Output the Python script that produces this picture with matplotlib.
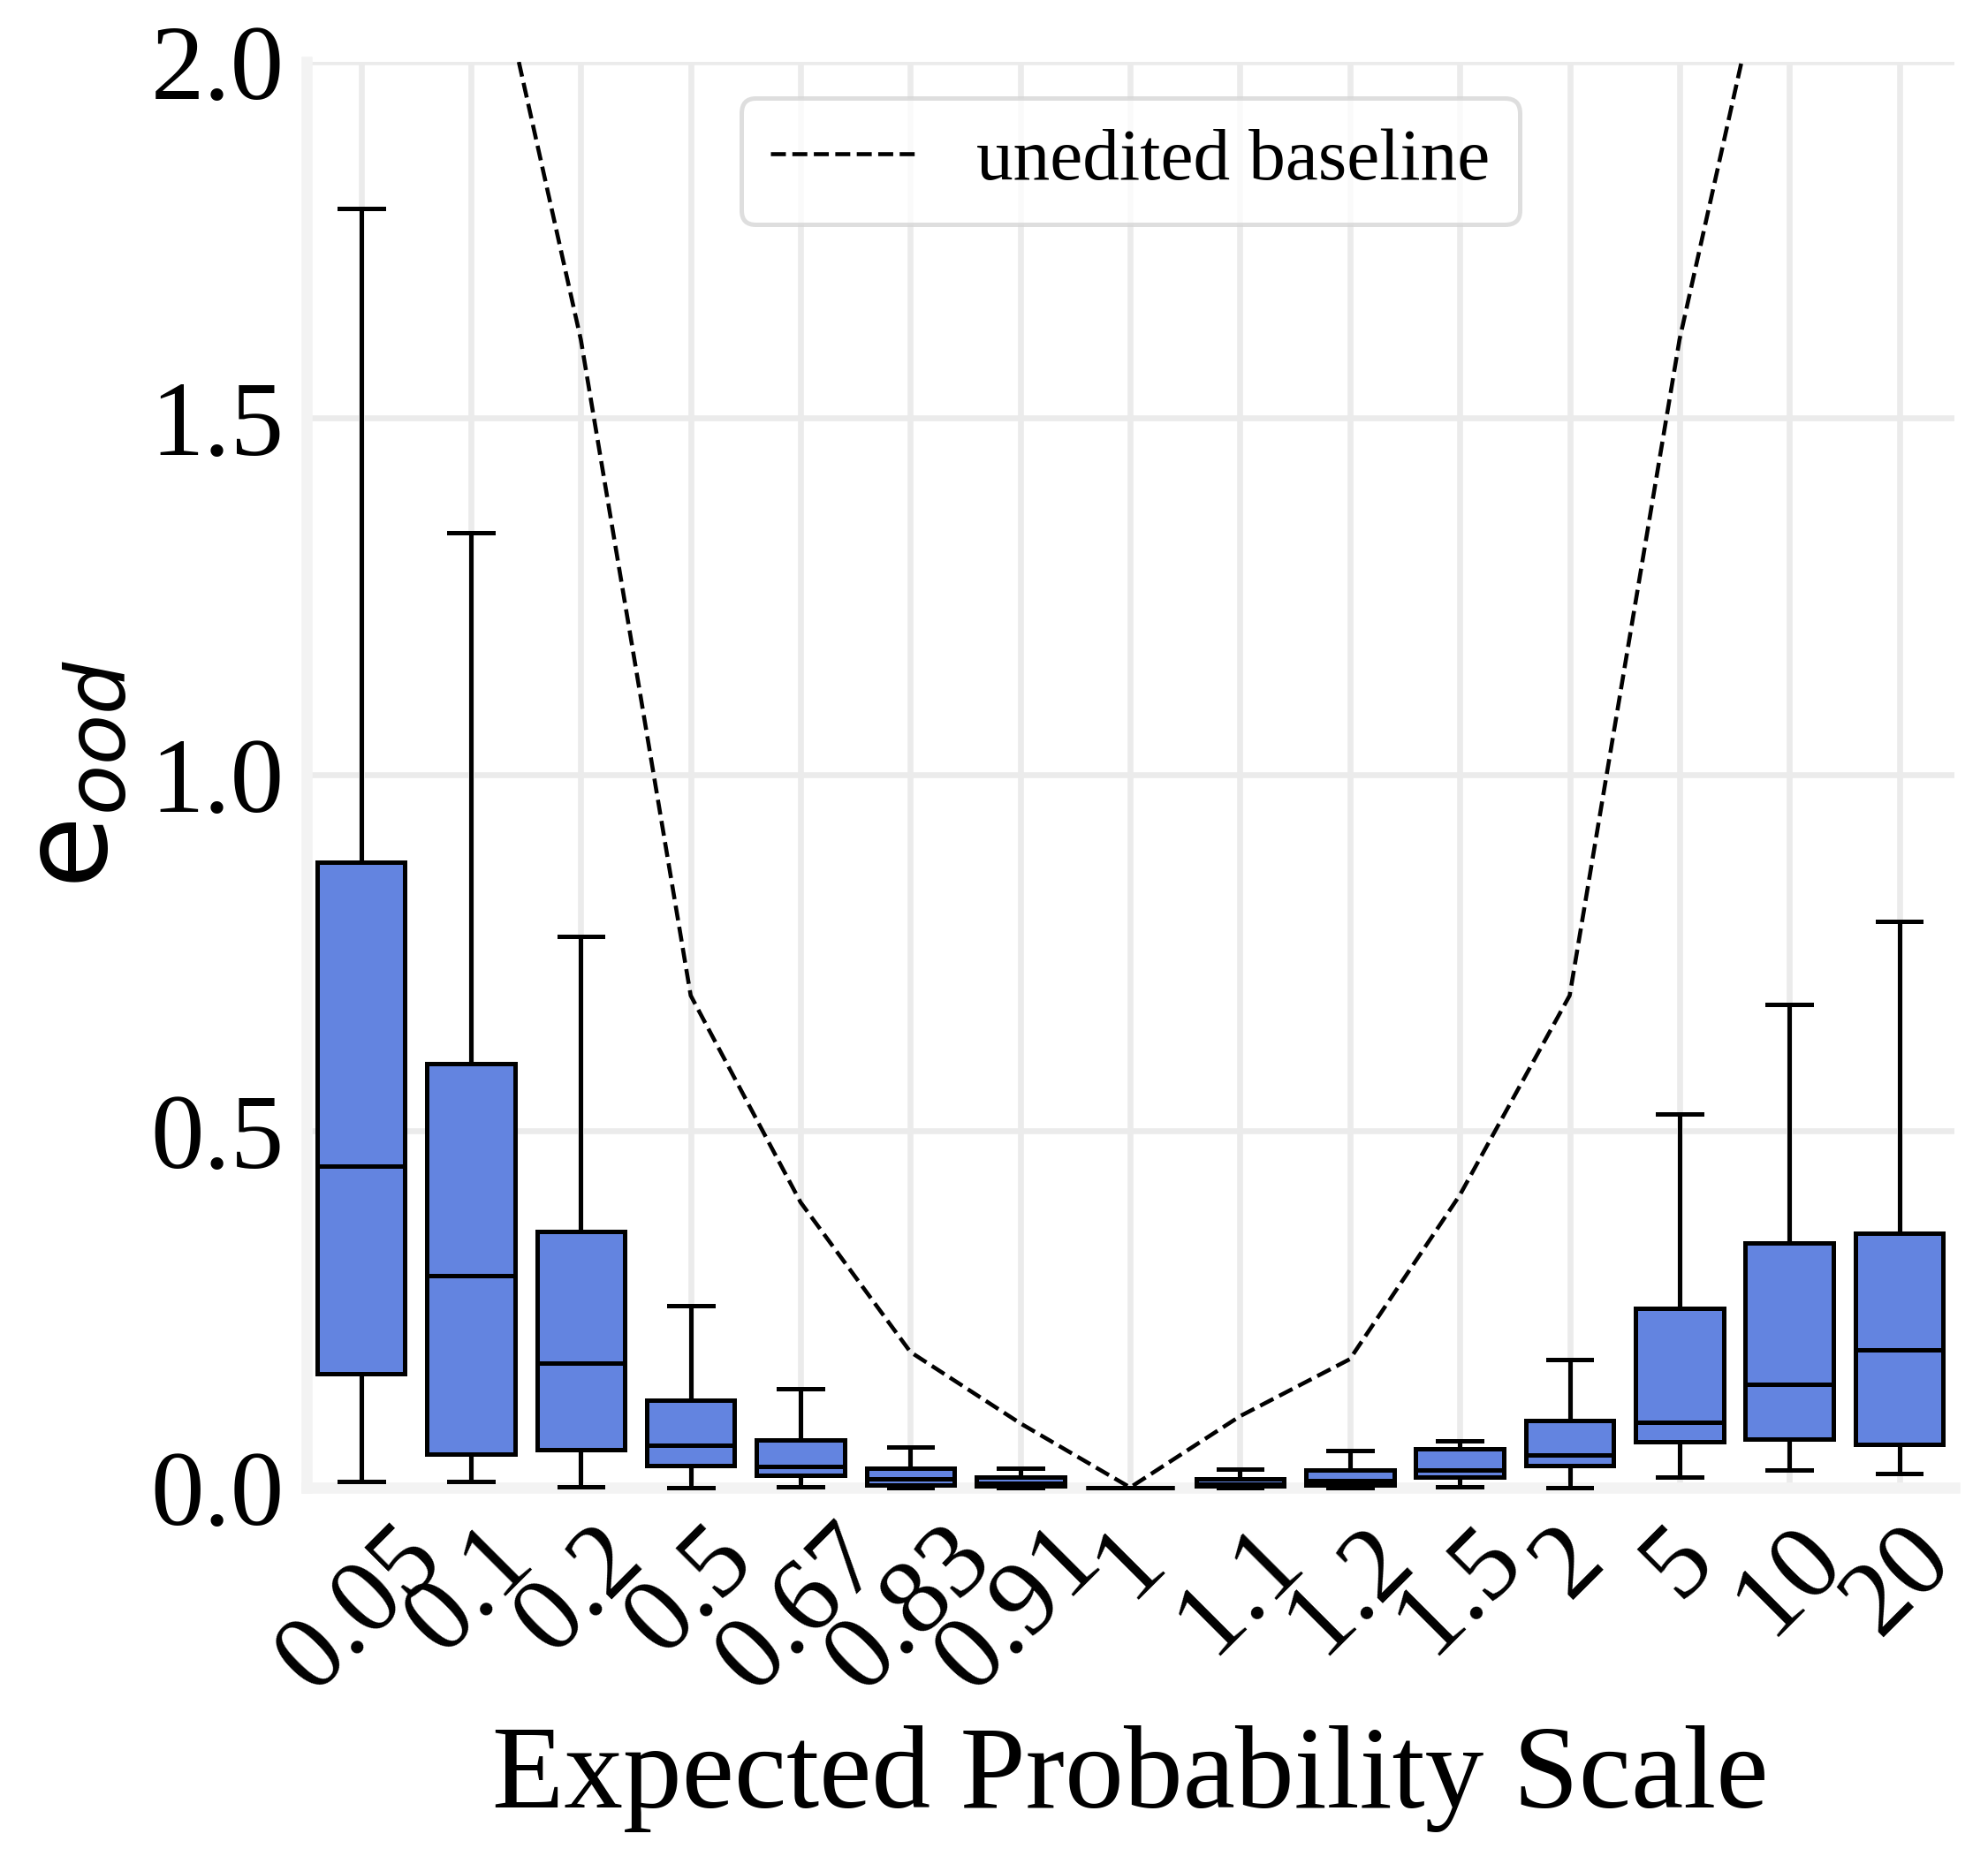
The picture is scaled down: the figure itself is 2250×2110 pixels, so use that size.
import matplotlib
matplotlib.use("Agg")
import matplotlib.pyplot as plt

scales = ["0.05", "0.1", "0.2", "0.5", "0.67", "0.83", "0.91", "1",
          "1.1", "1.2", "1.5", "2", "5", "10", "20"]

# box statistics
whis_hi = [1.794, 1.339, 0.773, 0.255, 0.138, 0.057, 0.027, 0.0,
           0.026, 0.052, 0.065, 0.180, 0.524, 0.678, 0.794]
q3 = [0.877, 0.594, 0.359, 0.123, 0.067, 0.027, 0.014, 0.0,
      0.012, 0.025, 0.054, 0.094, 0.251, 0.343, 0.356]
medians = [0.451, 0.297, 0.175, 0.059, 0.030, 0.012, 0.006, 0.0,
           0.005, 0.010, 0.024, 0.045, 0.091, 0.145, 0.193]
q1 = [0.160, 0.047, 0.053, 0.031, 0.017, 0.004, 0.002, 0.0,
      0.002, 0.004, 0.015, 0.031, 0.064, 0.068, 0.060]
whis_lo = [0.008, 0.008, 0.001, 0.0, 0.001, 0.0, 0.0, 0.0,
           0.0, 0.0, 0.001, 0.0, 0.015, 0.025, 0.020]

# unedited baseline
baseline = [3.00, 2.30, 1.61, 0.69, 0.40, 0.19, 0.09, 0.0,
            0.10, 0.18, 0.41, 0.69, 1.61, 2.30, 3.00]

plt.rcParams["font.family"] = ["Liberation Serif", "DejaVu Serif"]
plt.rcParams["mathtext.fontset"] = "dejavusans"

fig, ax = plt.subplots(figsize=(7.5, 2110 / 300), dpi=300)
fig.subplots_adjust(left=0.154, right=0.983, top=0.967, bottom=0.202)

ax.set_axisbelow(True)
ax.grid(True, color="#ebebeb", linewidth=1.6)

stats = []
for i in range(len(scales)):
    stats.append({"med": medians[i], "q1": q1[i], "q3": q3[i],
                  "whislo": whis_lo[i], "whishi": whis_hi[i], "fliers": []})

positions = list(range(len(scales)))
lw = 1.2
parts = ax.bxp(stats, positions=positions, widths=0.8, patch_artist=True,
               showfliers=False,
               boxprops=dict(facecolor="#6384e0", edgecolor="black", linewidth=lw),
               medianprops=dict(color="black", linewidth=lw),
               whiskerprops=dict(color="black", linewidth=lw),
               capprops=dict(color="black", linewidth=lw))
for key in ["boxes", "medians", "whiskers", "caps"]:
    for artist in parts[key]:
        artist.set_zorder(3)
        artist.set_clip_on(False)

ax.plot(positions, baseline, linestyle="--", color="black", linewidth=1.1,
        label="unedited baseline", zorder=4)

ax.set_xlim(-0.5, len(scales) - 0.5)
ax.set_ylim(0, 2.0)
ax.set_yticks([0.0, 0.5, 1.0, 1.5, 2.0])
ax.set_yticklabels(["0.0", "0.5", "1.0", "1.5", "2.0"])
ax.set_xticks(positions)
ax.set_xticklabels(scales, rotation=45)
ax.tick_params(axis="both", labelsize=29, length=0, pad=6)

for side in ["top", "right"]:
    ax.spines[side].set_visible(False)
for side in ["left", "bottom"]:
    ax.spines[side].set_color("#f3f3f3")
    ax.spines[side].set_linewidth(3)
    ax.spines[side].set_zorder(1)

ax.set_xlabel("Expected Probability Scale", fontsize=32)
ax.set_ylabel(r"$\mathrm{e}_{ood}$", fontsize=32, labelpad=5)

leg = ax.legend(loc="upper center", fontsize=20, frameon=True,
                edgecolor="#d6d6d6", fancybox=True, handlelength=2.0)
leg.get_frame().set_linewidth(1.2)

fig.savefig("out.png", dpi=300)
